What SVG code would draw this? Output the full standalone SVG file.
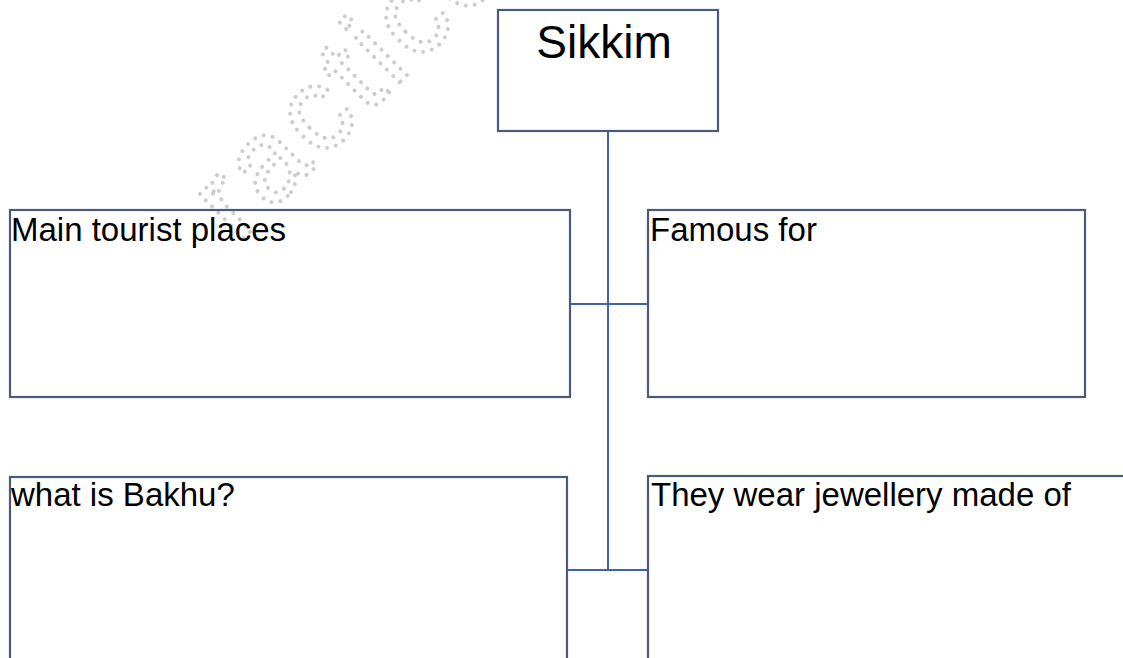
<svg xmlns="http://www.w3.org/2000/svg" width="1123" height="658" viewBox="0 0 1123 658">
  <style>
    .box { fill: #ffffff; fill-opacity: 0; stroke: #4b5a78; stroke-width: 2.2; }
    .lbl { font-family: "Liberation Sans", Arial, sans-serif; font-size: 33px; fill: #000000; }
    .title { font-family: "Liberation Sans", Arial, sans-serif; font-size: 46px; fill: #000000; text-anchor: middle; }
    .conn { stroke: #3f63aa; stroke-width: 2; fill: none; }
    .wm { font-family: "Liberation Sans", Arial, sans-serif; font-size: 118px; letter-spacing: 6px; fill: none; stroke: #cdcdcd; stroke-width: 4; stroke-dasharray: 0 9; stroke-linecap: round; }
  </style>
  <rect width="1123" height="658" fill="#ffffff"/>
  <g id="watermark" transform="translate(238,244) rotate(-45)">
    <text class="wm" x="0" y="0">ractice</text>
  </g>
  <g id="connectors">
    <line class="conn" x1="608" y1="131" x2="608" y2="570"/>
    <line class="conn" x1="570" y1="304" x2="648" y2="304"/>
    <line class="conn" x1="567" y1="570" x2="648" y2="570"/>
  </g>
  <g id="sikkim">
    <rect class="box" x="498" y="10" width="220" height="121"/>
    <text class="title" x="604" y="58">Sikkim</text>
  </g>
  <g id="tourist">
    <rect class="box" x="10" y="210" width="560" height="187"/>
    <text class="lbl" x="11" y="241">Main tourist places</text>
  </g>
  <g id="famous">
    <rect class="box" x="648" y="210" width="437" height="187"/>
    <text class="lbl" x="650" y="241">Famous for</text>
  </g>
  <g id="bakhu">
    <rect class="box" x="10" y="477" width="557" height="260"/>
    <text class="lbl" x="11" y="506">what is Bakhu?</text>
  </g>
  <g id="jewellery">
    <rect class="box" x="648" y="476" width="560" height="260"/>
    <text class="lbl" x="651" y="506">They wear jewellery made of</text>
  </g>
</svg>
